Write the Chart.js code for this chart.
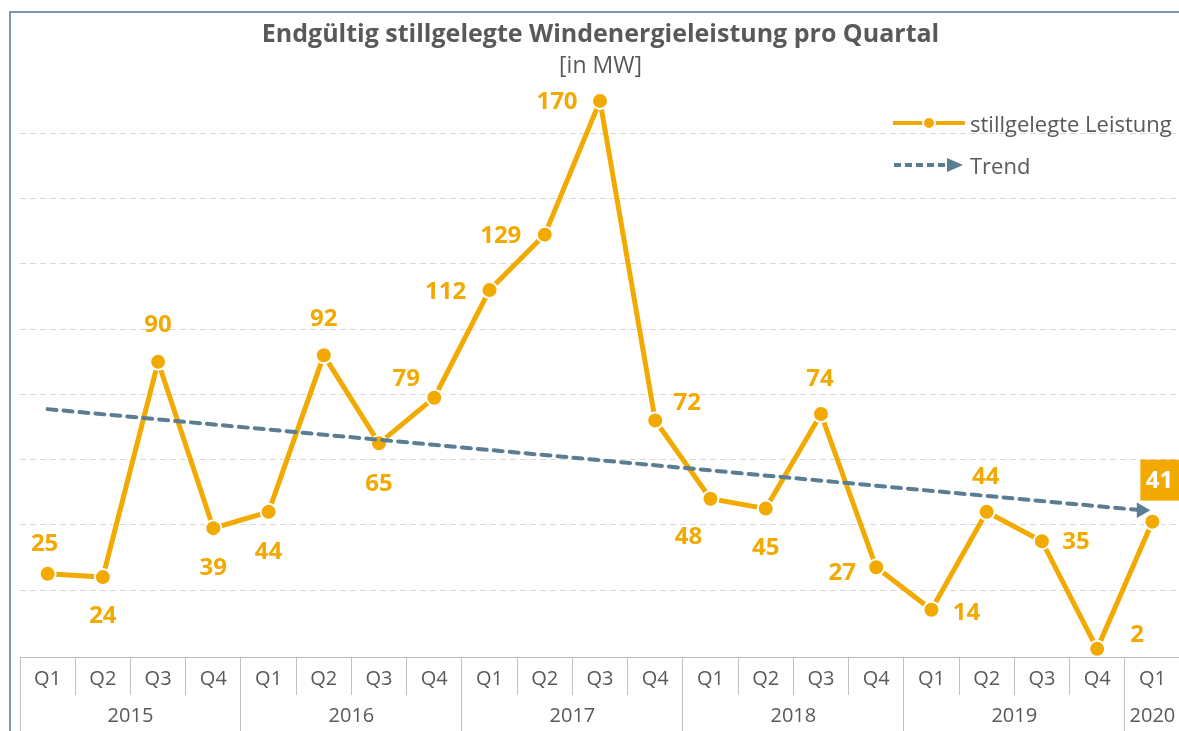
<!DOCTYPE html>
<html>
<head>
<meta charset="utf-8">
<script src="https://cdn.jsdelivr.net/npm/chart.js@4/dist/chart.umd.min.js"></script>
<style>
    body { margin: 0; background: #fff; overflow: hidden; }
    #wrap { position: relative; width: 1179px; height: 731px; overflow: hidden; }
    #frame {
        position: absolute; left: 9px; top: 11px; width: 1300px; height: 800px;
        border-left: 2px solid #7d99ae; border-top: 2px solid #7d99ae;
    }
    #quarterChart { position: absolute; left: 0; top: 0; }
    #legend {
        position: absolute; left: 893px; top: 109px;
        font-family: "Open Sans", sans-serif; font-size: 22px; color: #595959;
    }
    #legend .item { display: flex; align-items: center; height: 28px; margin-bottom: 14px; }
    #legend svg { margin-right: 5px; }
</style>
</head>
<body>
<div id="wrap">
    <div id="frame"></div>
    <canvas id="quarterChart" width="1190" height="731"></canvas>
    <div id="legend">
        <div class="item">
            <svg width="72" height="16">
                <line x1="0" y1="8" x2="71" y2="8" stroke="#f2a900" stroke-width="4" stroke-linecap="round"/>
                <circle cx="36" cy="8" r="6" fill="#f2a900" stroke="#fff" stroke-width="2"/>
            </svg>
            <span>stillgelegte Leistung</span>
        </div>
        <div class="item">
            <svg width="72" height="16">
                <line x1="1" y1="8" x2="56" y2="8" stroke="#5a7d93" stroke-width="4" stroke-dasharray="7 4"/>
                <polygon points="54,1 70,8 54,15" fill="#5a7d93"/>
            </svg>
            <span>Trend</span>
        </div>
    </div>
</div>
<script>
const quarters = ['Q1', 'Q2', 'Q3', 'Q4', 'Q1', 'Q2', 'Q3', 'Q4', 'Q1', 'Q2', 'Q3', 'Q4',
                  'Q1', 'Q2', 'Q3', 'Q4', 'Q1', 'Q2', 'Q3', 'Q4', 'Q1'];
const years = ['2015', '2015', '2015', '2015', '2016', '2016', '2016', '2016',
               '2017', '2017', '2017', '2017', '2018', '2018', '2018', '2018',
               '2019', '2019', '2019', '2019', '2020'];
const decommissioned = [25, 24, 90, 39, 44, 92, 65, 79, 112, 129, 170, 72, 48, 45, 74, 27, 14, 44, 35, 2, 41];
// trend line: start and end (x in quarter index)
const trendX = [0, 19.8];
const trendY = [75.5, 44.5];

const ORANGE = '#f2a900';
const BLUE = '#5a7d93';
const GREY = '#595959';
const FONT = '"Open Sans", sans-serif';

// year groups for the second axis row
const groups = [];
years.forEach((y, i) => {
    const g = groups[groups.length - 1];
    if (g && g.label === y) g.end = i;
    else groups.push({ label: y, start: i, end: i });
});
const yearTicks = [];
groups.forEach(g => {
    yearTicks.push({ value: g.start - 0.5, label: '' });
    yearTicks.push({ value: (g.start + g.end) / 2, label: g.label });
});
yearTicks.push({ value: groups[groups.length - 1].end + 0.5, label: '' });
const yearLabel = v => (yearTicks.find(t => t.value === v) || {}).label || '';
const isBoundary = v => yearTicks.some(t => t.value === v && t.label === '');

// label offsets (px) from each point, as placed in the original
const labelOffsets = [[-3, -31], [0, 38], [0, -38], [0, 39], [0, 39], [0, -37], [0, 40], [-28, -20],
                      [-44, 1], [-44, 1], [-43, 0], [32, -18], [-22, 37], [0, 39], [-1, -36], [-34, 5],
                      [35, 2], [-1, -36], [34, 0], [40, -15], [7, -41]];

const pointLabels = {
    id: 'pointLabels',
    afterDatasetsDraw(chart) {
        const meta = chart.getDatasetMeta(1);
        const ctx = chart.ctx;
        ctx.save();
        ctx.font = 'bold 24px ' + FONT;
        ctx.textAlign = 'center';
        ctx.textBaseline = 'middle';
        meta.data.forEach((pt, i) => {
            const [dx, dy] = labelOffsets[i];
            const x = pt.x + dx, y = pt.y + dy;
            const text = String(decommissioned[i]);
            if (i === decommissioned.length - 1) {
                ctx.fillStyle = ORANGE;
                ctx.fillRect(x - 19, y - 21, 40, 41);
                ctx.fillStyle = '#fff';
            } else {
                ctx.fillStyle = ORANGE;
            }
            ctx.fillText(text, x, y + 1);
        });
        ctx.restore();
    }
};

new Chart(document.getElementById('quarterChart'), {
    type: 'line',
    data: {
        labels: quarters,
        datasets: [
            {
                label: 'Trend',
                data: trendX.map((x, i) => ({ x: x, y: trendY[i] })),
                xAxisID: 'year',
                borderColor: BLUE,
                backgroundColor: BLUE,
                borderWidth: 4,
                borderDash: [9, 7],
                borderCapStyle: 'round',
                pointRadius: [0, 9],
                pointStyle: 'triangle',
                pointRotation: 90,
                pointBorderWidth: 0,
                fill: false
            },
            {
                label: 'stillgelegte Leistung',
                data: decommissioned,
                xAxisID: 'x',
                borderColor: ORANGE,
                backgroundColor: ORANGE,
                borderWidth: 5,
                pointRadius: 8,
                pointBackgroundColor: ORANGE,
                pointBorderColor: '#fff',
                pointBorderWidth: 2,
                pointHoverRadius: 8,
                tension: 0,
                fill: false
            }
        ]
    },
    options: {
        responsive: false,
        animation: false,
        events: [],
        layout: { padding: { left: 20, right: 9, top: 0, bottom: 0 } },
        plugins: {
            legend: { display: false },
            tooltip: { enabled: false },
            title: {
                display: true,
                text: 'Endgültig stillgelegte Windenergieleistung pro Quartal',
                color: GREY,
                font: { family: FONT, size: 25, weight: 'bold' },
                padding: { top: 20, bottom: 3 }
            },
            subtitle: {
                display: true,
                text: '[in MW]',
                color: GREY,
                font: { family: FONT, size: 23 },
                padding: { top: 0, bottom: 4 }
            }
        },
        scales: {
            y: {
                min: -0.5,
                max: 175,
                afterBuildTicks: s => { s.ticks = [20, 40, 60, 80, 100, 120, 140, 160].map(v => ({ value: v })); },
                ticks: { display: false },
                grid: { drawTicks: false, color: '#d9d9d9' },
                border: { display: false, dash: [6, 4] },
                afterFit: s => { s.width = 0; }
            },
            x: {
                type: 'category',
                position: 'bottom',
                weight: 0,
                offset: true,
                ticks: { color: GREY, font: { family: FONT, size: 20 }, padding: -28, maxRotation: 0, autoSkip: false },
                grid: { offset: true, drawOnChartArea: false, tickLength: 38, color: '#bfbfbf' },
                border: { display: true, color: '#bfbfbf', width: 1 },
                afterFit: s => { s.height = 37; }
            },
            year: {
                type: 'linear',
                position: 'bottom',
                weight: 1,
                min: -0.5,
                max: quarters.length - 0.5,
                afterBuildTicks: s => { s.ticks = yearTicks.map(t => ({ value: t.value })); },
                ticks: {
                    color: GREY, font: { family: FONT, size: 20 }, padding: -27,
                    maxRotation: 0, autoSkip: false,
                    callback: v => yearLabel(v)
                },
                grid: {
                    drawOnChartArea: false,
                    tickLength: 37,
                    color: ctx => isBoundary(ctx.tick.value) ? '#bfbfbf' : 'transparent',
                    tickColor: ctx => isBoundary(ctx.tick.value) ? '#bfbfbf' : 'transparent'
                },
                border: { display: false },
                afterFit: s => { s.height = 37; }
            }
        }
    },
    plugins: [pointLabels]
});
</script>
</body>
</html>
